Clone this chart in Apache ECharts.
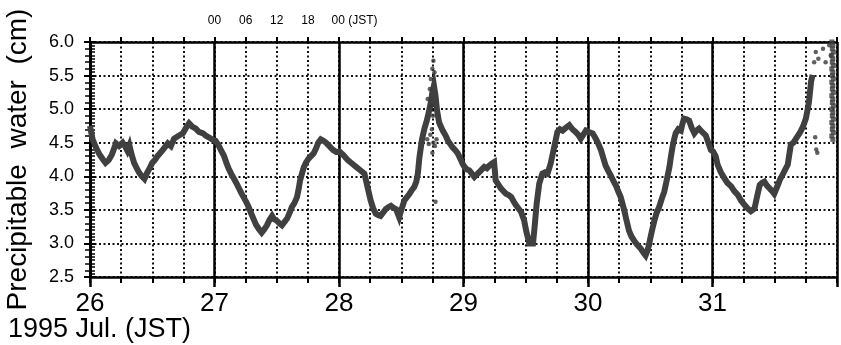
<!DOCTYPE html>
<html><head><meta charset="utf-8">
<script src="https://cdn.jsdelivr.net/npm/echarts/dist/echarts.min.js"></script>
<style>html,body{margin:0;padding:0;background:#fff}#c{width:841px;height:345px}</style>
</head><body><div id="c"></div>
<script>
// Bottom axis day labels (Jul. 26 .. 31), top axis hour labels (JST) for Jul. 27
const dayLabels = ['26', '27', '28', '29', '30', '31'];
const topHourLabels = ['00', '06', '12', '18', '00'];
const yTickLabels = ['2.5', '3.0', '3.5', '4.0', '4.5', '5.0', '5.5', '6.0'];

// Time in hours since 1995 Jul. 26 00 JST, precipitable water (cm)
const hours = [
  0.0, 0.5, 1.2, 1.8, 2.5, 3.0, 3.6, 4.2, 5.0, 5.6, 6.3, 6.8, 7.2, 7.6, 8.0, 8.5, 9.0, 9.5, 10.0, 10.5,
  11.0, 11.5, 12.0, 12.5, 13.0, 13.7, 14.3, 15.0, 15.6, 16.2, 17.0, 17.9, 18.5, 19.1, 19.7, 20.4, 21.0, 21.8, 22.4, 22.9,
  23.5, 24.2, 24.8, 25.3, 25.8, 26.3, 26.7, 27.2, 27.7, 28.2, 28.6, 29.1, 29.6, 30.1, 30.6, 31.0, 31.5, 32.0, 32.5, 33.1,
  33.6, 34.1, 34.6, 35.1, 35.5, 36.0, 36.5, 37.0, 37.5, 38.0, 38.5, 38.9, 39.4, 39.9, 40.2, 40.5, 40.9, 41.2, 41.6, 42.1,
  42.6, 43.1, 43.6, 44.0, 44.5, 45.0, 45.5, 46.0, 46.5, 46.9, 47.5, 48.1, 48.8, 49.7, 50.5, 51.3, 52.1, 52.9, 53.5, 54.1,
  54.6, 55.1, 55.6, 56.0, 56.5, 57.0, 57.5, 58.0, 58.5, 59.0, 59.6, 60.1, 60.6, 61.1, 61.6, 62.1, 62.5, 62.9, 63.2, 63.5,
  64.0, 64.5, 64.9, 65.3, 65.7, 66.0, 66.3, 66.6, 66.9, 67.3, 68.0, 68.6, 69.0, 69.9, 70.5, 70.9, 71.4, 71.8, 72.2, 72.7,
  73.1, 73.6, 74.1, 74.6, 75.0, 75.5, 76.0, 76.5, 77.0, 77.5, 77.9, 78.2, 78.7, 79.2, 79.7, 80.2, 80.7, 81.2, 81.7, 82.1,
  82.6, 83.1, 83.7, 84.1, 84.4, 84.7, 85.0, 85.4, 85.7, 86.1, 86.6, 87.2, 87.7, 88.2, 88.8, 89.5, 90.1, 90.6, 91.1, 91.7,
  92.4, 93.0, 93.6, 94.1, 94.6, 95.1, 95.6, 96.2, 96.9, 97.5, 98.0, 98.5, 99.0, 99.4, 99.9, 100.4, 100.9, 101.4, 101.8, 102.3,
  103.0, 103.4, 103.9, 104.4, 104.9, 105.5, 106.2, 106.7, 107.1, 107.5, 107.8, 108.3, 108.8, 109.2, 109.7, 110.2, 110.7, 111.2, 111.7, 112.0,
  112.3, 112.6, 112.9, 113.4, 113.9, 114.2, 114.5, 115.0, 115.5, 116.0, 116.5, 116.9, 117.4, 118.0, 118.7, 119.2, 119.7, 120.1, 120.6, 121.0,
  121.6, 122.3, 122.9, 123.6, 124.2, 124.9, 125.5, 126.2, 126.8, 127.4, 128.1, 128.6, 129.1, 129.5, 130.0, 130.5, 131.0, 131.5, 131.9, 132.6,
  133.0, 133.5, 134.0, 134.5, 134.8, 135.1, 135.6, 136.1, 136.6, 137.0, 137.5, 138.0, 138.3, 138.6, 139.0, 139.3
];
const pw = [
  4.75, 4.55, 4.42, 4.33, 4.25, 4.20, 4.24, 4.32, 4.49, 4.45, 4.50, 4.44, 4.38, 4.46, 4.33, 4.20, 4.12, 4.05, 4.00, 3.96,
  4.05, 4.12, 4.20, 4.24, 4.30, 4.36, 4.42, 4.49, 4.45, 4.56, 4.60, 4.64, 4.72, 4.79, 4.74, 4.71, 4.66, 4.64, 4.60, 4.58,
  4.55, 4.53, 4.46, 4.38, 4.31, 4.20, 4.12, 4.04, 3.97, 3.90, 3.84, 3.76, 3.69, 3.62, 3.54, 3.46, 3.37, 3.28, 3.22, 3.16,
  3.21, 3.27, 3.35, 3.41, 3.36, 3.34, 3.30, 3.27, 3.32, 3.37, 3.46, 3.54, 3.60, 3.69, 3.80, 3.94, 4.05, 4.13, 4.20, 4.26,
  4.30, 4.34, 4.42, 4.50, 4.55, 4.53, 4.50, 4.46, 4.42, 4.39, 4.36, 4.37, 4.32, 4.24, 4.19, 4.14, 4.09, 4.04, 3.84, 3.64,
  3.52, 3.44, 3.42, 3.41, 3.46, 3.51, 3.54, 3.56, 3.53, 3.51, 3.39, 3.52, 3.64, 3.69, 3.74, 3.80, 3.84, 3.92, 4.04, 4.28,
  4.55, 4.72, 4.82, 4.95, 5.10, 5.25, 5.35, 5.20, 4.98, 4.80, 4.68, 4.60, 4.53, 4.43, 4.38, 4.34, 4.26, 4.19, 4.14, 4.10,
  4.09, 4.04, 3.99, 4.03, 4.06, 4.10, 4.14, 4.12, 4.16, 4.19, 4.21, 3.94, 3.88, 3.82, 3.78, 3.74, 3.72, 3.69, 3.62, 3.57,
  3.52, 3.47, 3.34, 3.18, 3.09, 3.00, 3.02, 3.00, 3.24, 3.59, 3.89, 4.04, 4.06, 4.04, 4.19, 4.44, 4.66, 4.70, 4.68, 4.72,
  4.76, 4.70, 4.66, 4.62, 4.56, 4.62, 4.68, 4.66, 4.64, 4.56, 4.48, 4.39, 4.26, 4.16, 4.08, 4.01, 3.93, 3.86, 3.78, 3.69,
  3.49, 3.35, 3.19, 3.10, 3.04, 2.98, 2.92, 2.86, 2.82, 2.90, 3.00, 3.18, 3.34, 3.45, 3.54, 3.66, 3.77, 3.95, 4.14, 4.30,
  4.44, 4.55, 4.64, 4.70, 4.68, 4.78, 4.86, 4.85, 4.83, 4.72, 4.64, 4.68, 4.71, 4.66, 4.61, 4.50, 4.39, 4.37, 4.30, 4.17,
  4.06, 3.97, 3.90, 3.85, 3.78, 3.72, 3.64, 3.57, 3.52, 3.48, 3.52, 3.70, 3.87, 3.90, 3.92, 3.86, 3.82, 3.78, 3.74, 3.87,
  3.95, 4.02, 4.10, 4.17, 4.32, 4.47, 4.50, 4.56, 4.62, 4.67, 4.75, 4.86, 4.98, 5.11, 5.41, 5.51
];

// Isolated (scattered) observations
const scatterHours = [
  65.0, 65.3, 65.6, 65.9, 66.2, 66.5, 66.8, 66.0, 66.6, 65.7, 66.0, 66.2, 66.4, 65.5, 65.1, 65.8, 66.1,
  139.6, 139.9, 140.4, 141.3, 141.8, 142.5, 142.8, 139.8, 140.0, 140.2
];
const scatterPW = [
  4.55, 4.48, 4.62, 4.70, 4.50, 4.45, 4.55, 4.35, 3.62, 5.45, 5.60, 5.72, 5.55, 5.30, 5.15, 5.05, 4.90,
  5.70, 5.85, 5.75, 5.90, 5.70, 5.95, 5.80, 4.58, 4.40, 4.35
];
// Dense burst of observations at the very end of Jul. 31
const endHours = [
  143.0, 143.2, 143.1, 143.3, 143.0, 143.2, 143.1, 143.3, 143.0, 143.2, 143.1, 143.3, 143.0, 143.2, 143.1,
  143.3, 143.0, 143.2, 143.1, 143.3, 143.0, 143.2, 143.1, 143.3, 143.0, 143.2, 143.1, 143.3, 143.0, 143.2
];
const endPW = [
  6.00, 5.95, 5.90, 5.85, 5.80, 5.75, 5.70, 5.65, 5.60, 5.55, 5.50, 5.45, 5.40, 5.35, 5.30,
  5.25, 5.20, 5.15, 5.10, 5.05, 5.00, 4.95, 4.90, 4.85, 4.80, 4.75, 4.70, 4.65, 4.60, 4.55
];

const FONT = '"Liberation Sans", Arial, Helvetica, sans-serif';
const lineData = hours.map((h, i) => [h, pw[i]]);
const scatData = scatterHours.map((h, i) => [h, scatterPW[i]]);
const endData = endHours.map((h, i) => [h, endPW[i]]);

const chart = echarts.init(document.getElementById('c'), null, { renderer: 'canvas' });
const base = { type: 'value', min: 0, max: 144 };
const yBase = { type: 'value', min: 2.5, max: 6.0, interval: 0.5 };
chart.setOption({
  animation: false,
  backgroundColor: '#fff',
  grid: { left: 90, right: 4, top: 42, bottom: 68, outerBoundsMode: 'none', containLabel: false },
  xAxis: [
    Object.assign({}, base, {
      position: 'bottom', interval: 6,
      axisLine: { lineStyle: { color: '#000', width: 2.5 } },
      axisTick: { length: 6, lineStyle: { color: '#000', width: 2 } },
      axisLabel: { margin: 14, fontSize: 26, color: '#000', fontFamily: FONT,
        formatter: v => (v % 24 === 0 && v / 24 < dayLabels.length) ? dayLabels[v / 24] : '' },
      splitLine: { show: true, lineStyle: { color: '#111', width: 2, type: [2, 2.5] } }
    }),
    Object.assign({}, base, {
      position: 'top', interval: 6,
      axisLine: { lineStyle: { color: '#000', width: 2.5 } },
      axisTick: { length: 5, lineStyle: { color: '#000', width: 2 } },
      axisLabel: { margin: 15, fontSize: 12, color: '#000', fontFamily: FONT,
        formatter: v => {
          const i = (v - 24) / 6;
          if (i >= 0 && i < topHourLabels.length) {
            return i === topHourLabels.length - 1 ? '{s|}' + topHourLabels[i] + ' (JST)' : topHourLabels[i];
          }
          return '';
        },
        rich: { s: { width: 31 } } },
      splitLine: { show: false }
    }),
    Object.assign({}, base, {
      position: 'bottom', interval: 24,
      axisLine: { show: false },
      axisTick: { show: true, length: 10, lineStyle: { color: '#000', width: 2.5 } },
      axisLabel: { show: false },
      splitLine: { show: true, lineStyle: { color: '#000', width: 2.5, type: 'solid' } }
    })
  ],
  yAxis: [
    Object.assign({}, yBase, {
      position: 'left',
      name: 'Precipitable  water  (cm)', nameLocation: 'middle', nameGap: 58,
      nameTextStyle: { fontSize: 28, color: '#000', fontFamily: FONT },
      axisLine: { lineStyle: { color: '#000', width: 2.5 } },
      axisTick: { length: 6, lineStyle: { color: '#000', width: 2 } },
      axisLabel: { margin: 16, fontSize: 18, color: '#000', fontFamily: FONT,
        formatter: v => yTickLabels[Math.round((v - 2.5) / 0.5)] },
      splitLine: { show: true, lineStyle: { color: '#111', width: 2, type: [2, 2.5] } }
    }),
    Object.assign({}, yBase, {
      position: 'right',
      axisLine: { lineStyle: { color: '#000', width: 2.5 } },
      axisTick: { inside: true, length: 5, lineStyle: { color: '#000', width: 2 } },
      minorTick: { show: true, splitNumber: 5, length: 5, lineStyle: { color: '#000', width: 1.5 } },
      axisLabel: { show: false },
      splitLine: { show: false }
    }),
    Object.assign({}, yBase, {
      position: 'left', offset: 0,
      axisLine: { show: false },
      axisTick: { inside: true, length: 6, lineStyle: { color: '#000', width: 2 } },
      minorTick: { show: true, splitNumber: 10, length: 5, lineStyle: { color: '#000', width: 1.5 } },
      axisLabel: { show: false },
      splitLine: { show: false }
    })
  ],
  graphic: [
    { type: 'text', left: 8, top: 316,
      style: { text: '1995 Jul. (JST)', fontSize: 27, fill: '#000', fontFamily: FONT } }
  ],
  series: [
    { type: 'line', xAxisIndex: 0, yAxisIndex: 0, data: lineData, showSymbol: false,
      lineStyle: { color: '#404040', width: 6, join: 'miter' }, z: 5 },
    { type: 'scatter', xAxisIndex: 0, yAxisIndex: 0, data: scatData, symbolSize: 4.5,
      itemStyle: { color: '#383838' }, z: 5 },
    { type: 'scatter', xAxisIndex: 0, yAxisIndex: 0, data: endData, symbol: 'rect', symbolSize: [5, 5],
      itemStyle: { color: '#404040' }, z: 5 }
  ]
});
</script>
</body></html>
